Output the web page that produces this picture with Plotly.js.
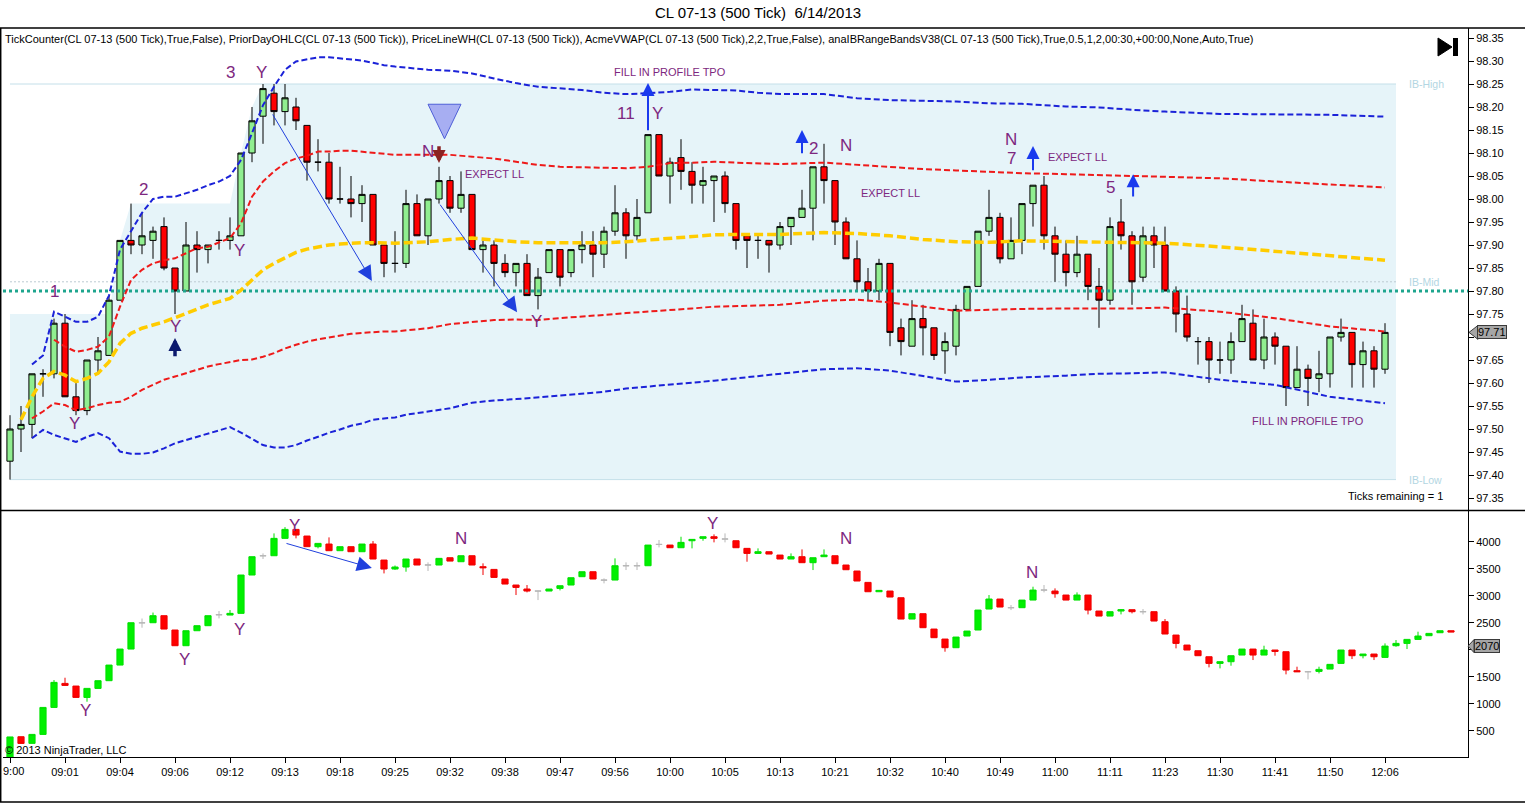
<!DOCTYPE html>
<html><head><meta charset="utf-8">
<script src="https://cdn.plot.ly/plotly-3.0.1.min.js"></script>
<style>html,body{margin:0;padding:0;background:#fff;}#chart{width:1525px;height:803px;}</style>
</head><body><div id="chart"></div>
<script>
// ---------------- DATA ----------------
const timeLabels = ['09:00','09:01','09:04','09:06','09:12','09:13','09:18','09:25','09:32','09:38','09:47','09:56','10:00','10:05','10:13','10:21','10:32','10:40','10:49','11:00','11:11','11:23','11:30','11:41','11:50','12:06'];

const priceOpen = [97.43,97.50,97.51,97.62,97.62,97.73,97.57,97.54,97.65,97.66,97.78,97.91,97.90,97.91,97.94,97.85,97.80,97.90,97.89,97.91,97.91,97.92,98.10,98.18,98.23,98.19,98.20,98.16,98.08,98.08,98.00,98.00,97.99,98.01,97.90,97.86,97.86,97.99,97.92,98.00,98.04,97.98,98.01,97.89,97.90,97.86,97.84,97.86,97.79,97.84,97.89,97.84,97.89,97.90,97.88,97.93,97.97,97.92,97.97,98.14,98.05,98.09,98.06,98.03,98.04,98.05,97.99,97.92,97.91,97.91,97.90,97.94,97.96,97.98,98.07,98.04,97.95,97.87,97.82,97.80,97.86,97.72,97.68,97.74,97.72,97.67,97.68,97.76,97.81,97.93,97.96,97.87,97.91,97.99,98.03,97.92,97.88,97.84,97.88,97.81,97.78,97.95,97.92,97.83,97.92,97.90,97.80,97.75,97.69,97.69,97.65,97.65,97.69,97.73,97.65,97.70,97.68,97.59,97.63,97.61,97.62,97.70,97.71,97.64,97.67,97.63];
const priceHigh = [97.53,97.55,97.62,97.63,97.74,97.75,97.60,97.65,97.70,97.79,97.91,97.99,97.97,97.94,97.96,97.85,97.95,97.93,97.90,97.93,97.96,98.10,98.20,98.25,98.25,98.25,98.22,98.16,98.13,98.10,98.07,98.05,98.03,98.01,97.90,97.93,98.02,98.01,98.00,98.07,98.05,98.06,98.01,97.91,97.91,97.88,97.86,97.88,97.85,97.89,97.89,97.89,97.93,97.93,97.94,98.03,97.98,98.00,98.14,98.14,98.09,98.13,98.08,98.07,98.05,98.06,97.99,97.92,97.92,97.91,97.95,97.96,98.02,98.07,98.12,98.04,97.96,97.91,97.85,97.87,97.86,97.74,97.78,97.77,97.72,97.71,97.77,97.81,97.93,98.02,97.97,97.96,97.99,98.03,98.05,97.94,97.91,97.92,97.88,97.85,97.96,98.00,97.93,97.94,97.94,97.94,97.81,97.79,97.70,97.70,97.69,97.71,97.77,97.76,97.74,97.71,97.68,97.68,97.64,97.67,97.70,97.74,97.71,97.69,97.68,97.73];
const priceLow = [97.39,97.45,97.48,97.57,97.61,97.57,97.53,97.53,97.62,97.66,97.78,97.88,97.88,97.87,97.845,97.75,97.80,97.84,97.86,97.89,97.89,97.92,98.08,98.12,98.16,98.16,98.15,98.04,98.06,97.99,97.99,97.96,97.95,97.90,97.83,97.84,97.85,97.92,97.90,97.99,97.97,97.97,97.89,97.84,97.81,97.83,97.81,97.79,97.76,97.84,97.81,97.83,97.86,97.83,97.85,97.92,97.87,97.91,97.97,98.05,97.99,98.02,97.99,97.99,97.95,97.97,97.89,97.85,97.87,97.84,97.89,97.90,97.96,97.91,97.99,97.90,97.87,97.80,97.78,97.78,97.68,97.66,97.68,97.66,97.65,97.62,97.66,97.76,97.81,97.92,97.86,97.87,97.88,97.94,97.89,97.82,97.81,97.83,97.78,97.72,97.77,97.89,97.77,97.82,97.85,97.80,97.71,97.69,97.64,97.60,97.62,97.62,97.69,97.65,97.63,97.64,97.55,97.59,97.55,97.58,97.59,97.69,97.59,97.59,97.59,97.62];
const priceClose = [97.50,97.51,97.62,97.62,97.73,97.57,97.54,97.65,97.67,97.78,97.91,97.90,97.92,97.93,97.85,97.80,97.90,97.89,97.90,97.91,97.92,98.10,98.17,98.24,98.19,98.22,98.17,98.08,98.08,98.00,98.00,97.99,98.01,97.90,97.86,97.86,97.99,97.92,98.00,98.04,97.98,98.01,97.89,97.90,97.86,97.84,97.86,97.79,97.83,97.89,97.83,97.89,97.90,97.88,97.93,97.97,97.92,97.96,98.14,98.05,98.08,98.06,98.03,98.04,98.05,97.99,97.91,97.91,97.91,97.90,97.94,97.96,97.98,98.07,98.04,97.95,97.87,97.82,97.80,97.86,97.71,97.69,97.74,97.72,97.66,97.69,97.76,97.81,97.93,97.96,97.87,97.91,97.99,98.03,97.92,97.88,97.84,97.88,97.81,97.78,97.94,97.92,97.82,97.92,97.90,97.80,97.75,97.70,97.69,97.65,97.65,97.69,97.74,97.65,97.70,97.68,97.59,97.63,97.61,97.62,97.70,97.71,97.64,97.67,97.63,97.71];

const deltaOpen = [0,394,271,437,936,1380,1331,1121,1288,1430,1719,2015,2500,2502,2632,2367,2077,2354,2447,2650,2644,2675,3384,3740,3741,4062,4228,4105,3908,3957,3834,3908,3815,3957,3661,3495,3532,3680,3570,3569,3704,3630,3741,3538,3488,3310,3199,3125,3088,3088,3137,3199,3353,3445,3290,3291,3556,3556,3556,3950,3938,3889,4018,4062,4092,4050,4018,3877,3784,3815,3753,3680,3723,3612,3723,3741,3569,3458,3248,3075,3088,2964,2570,2669,2385,2200,2040,2256,2367,2755,2940,2780,2780,2921,3106,3088,3014,2921,3014,2718,2625,2718,2743,2706,2706,2521,2274,2089,1984,1873,1750,1781,1904,2015,1904,1997,1966,1615,1596,1602,1645,1750,1997,1892,1923,1861,2077,2120,2194,2262,2317,2354];
const deltaHigh = [390,394,437,936,1442,1485,1331,1288,1430,1719,2015,2502,2580,2690,2632,2367,2354,2447,2632,2718,2736,3384,3723,3784,4154,4270,4228,4105,3969,4080,3908,3908,3957,4012,3661,3560,3680,3680,3618,3692,3704,3741,3741,3600,3488,3310,3199,3199,3095,3125,3186,3334,3445,3445,3322,3692,3618,3618,3938,4031,3938,4092,4043,4092,4136,4154,4018,3877,3877,3815,3753,3784,3858,3704,3858,3741,3569,3458,3248,3100,3088,2964,2669,2669,2385,2200,2237,2348,2736,3014,2940,2829,2921,3168,3199,3137,3014,3063,3014,2718,2706,2755,2743,2755,2706,2570,2274,2089,1984,1873,1781,1892,2015,2015,2077,1997,1966,1689,1610,1689,1732,1997,1997,1923,1923,2120,2182,2194,2336,2305,2354,2354];
const deltaLow = [0,270,271,437,936,1340,1121,1041,1288,1430,1719,2015,2410,2502,2385,2077,2077,2354,2447,2582,2644,2675,3384,3680,3741,4062,4062,3908,3877,3834,3834,3815,3815,3680,3414,3480,3445,3569,3458,3569,3642,3630,3569,3384,3340,3217,3014,3063,2921,3088,3100,3199,3353,3310,3230,3291,3476,3476,3556,3895,3889,3889,3877,4018,3988,3988,3889,3630,3784,3772,3680,3680,3612,3476,3723,3593,3482,3273,3075,3075,2977,2570,2570,2410,2225,1966,2040,2256,2367,2755,2792,2736,2780,2921,3063,2964,2921,2921,2656,2625,2625,2656,2675,2656,2533,2293,2028,1997,1892,1676,1658,1707,1904,1812,1904,1892,1547,1596,1454,1565,1645,1750,1830,1843,1812,1861,2058,2015,2194,2262,2317,2330];
const deltaClose = [390,270,437,936,1399,1343,1121,1288,1430,1719,2015,2502,2500,2632,2385,2077,2354,2447,2632,2650,2675,3384,3723,3740,4062,4228,4123,3908,3969,3834,3908,3815,3957,3680,3495,3532,3680,3569,3570,3692,3642,3741,3569,3519,3340,3217,3155,3088,3088,3125,3186,3334,3445,3310,3290,3556,3556,3556,3938,3950,3889,3988,4043,4092,4062,4050,3889,3784,3815,3772,3680,3723,3612,3704,3753,3593,3482,3273,3075,3100,2977,2570,2669,2410,2225,2040,2237,2348,2736,2940,2792,2780,2921,3106,3106,3038,2921,3014,2736,2625,2706,2743,2706,2706,2533,2293,2120,1997,1892,1750,1781,1892,2015,1904,1997,1972,1627,1596,1596,1639,1732,1997,1892,1923,1873,2070,2120,2194,2256,2305,2354,2330];

// indicator sample bars
const bandBars = [1,2,3,4,5,6,7,8,9,10,11,12,13,14,15,16,17,18,19,20,21,22,23,24,25,26,27,28,29,30,31,32,33,34,35,36,38,40,42,44,46,48,50,52,54,56,58,60,62,64,66,68,70,74,77,80,83,86,89,92,96,99,102,105,110,115,120,125];
const outerUpper = [null,97.64,97.66,97.755,97.744,97.733,97.733,97.744,97.79,97.89,97.93,97.97,98.00,98.005,98.005,98.012,98.02,98.03,98.038,98.05,98.085,98.143,98.204,98.244,98.281,98.299,98.304,98.308,98.308,98.306,98.304,98.301,98.296,98.291,98.288,98.286,98.281,98.279,98.273,98.262,98.252,98.244,98.241,98.237,98.231,98.228,98.230,98.233,98.238,98.237,98.236,98.231,98.228,98.228,98.219,98.215,98.214,98.212,98.208,98.207,98.201,98.199,98.194,98.190,98.185,98.184,98.183,98.179];
const innerUpper = [null,null,null,97.694,97.679,97.668,97.672,97.679,97.701,97.766,97.824,97.846,97.860,97.867,97.871,97.882,97.893,97.896,97.905,97.915,97.947,98.005,98.038,98.060,98.078,98.088,98.094,98.103,98.103,98.105,98.105,98.103,98.101,98.098,98.096,98.096,98.096,98.096,98.092,98.088,98.081,98.074,98.070,98.069,98.069,98.067,98.070,98.078,98.079,98.081,98.079,98.078,98.076,98.079,98.074,98.069,98.065,98.062,98.059,98.056,98.054,98.052,98.050,98.047,98.045,98.038,98.031,98.025];
const vwap = [97.520,97.570,97.610,97.625,97.617,97.603,97.610,97.621,97.646,97.686,97.708,97.719,97.726,97.733,97.742,97.751,97.762,97.770,97.777,97.784,97.802,97.824,97.846,97.860,97.873,97.884,97.891,97.896,97.900,97.902,97.904,97.905,97.905,97.904,97.904,97.905,97.907,97.912,97.915,97.911,97.907,97.905,97.905,97.904,97.905,97.907,97.911,97.915,97.918,97.922,97.923,97.923,97.923,97.927,97.925,97.920,97.912,97.907,97.906,97.909,97.907,97.907,97.905,97.904,97.896,97.886,97.876,97.867];
const innerLower = [null,97.523,97.538,97.556,97.552,97.541,97.545,97.552,97.557,97.559,97.570,97.585,97.596,97.607,97.614,97.621,97.628,97.636,97.641,97.646,97.650,97.651,97.657,97.665,97.675,97.683,97.690,97.695,97.699,97.702,97.707,97.709,97.711,97.712,97.712,97.714,97.719,97.728,97.733,97.737,97.738,97.737,97.741,97.744,97.748,97.752,97.755,97.759,97.762,97.766,97.767,97.769,97.770,97.779,97.781,97.775,97.766,97.757,97.759,97.761,97.762,97.762,97.762,97.764,97.755,97.741,97.723,97.712];
const outerLower = [null,97.480,97.498,97.487,97.480,97.472,97.483,97.491,97.480,97.451,97.446,97.446,97.449,97.458,97.469,97.476,97.483,97.491,97.498,97.504,97.492,97.478,97.465,97.460,97.460,97.465,97.475,97.483,97.492,97.499,97.507,97.512,97.520,97.523,97.525,97.531,97.538,97.545,97.557,97.562,97.565,97.569,97.574,97.578,97.581,97.588,97.592,97.596,97.601,97.605,97.610,97.615,97.620,97.630,97.632,97.627,97.615,97.603,97.607,97.612,97.616,97.620,97.621,97.623,97.607,97.596,97.570,97.556];

// initial-balance band top as it developed
const ibTopBars = [0,9,10,11,20,21,22,23,126];
const ibTopLevels = [97.75,97.75,97.91,97.99,97.99,98.10,98.20,98.25,98.25];
const priorDayLevel = 97.80;

// ---------------- LAYOUT HELPERS ----------------
const W = 1525, H = 803;
const FONT = 'Liberation Sans, Arial, sans-serif';
const PURPLE = '#7d2780';
const px = v => v / W;
const py = v => 1 - v / H;
const plotL = 3, plotR = 1468, bar0 = 10, barStep = 11;
const xRange = [(plotL - bar0) / barStep, (plotR - bar0) / barStep];

const idx = priceOpen.map((_, i) => i);
const dIdx = deltaOpen.map((_, i) => i);
const ibHigh = Math.max(...ibTopLevels);
const ibLow = Math.min(...priceLow);
const ibMid = (ibHigh + ibLow) / 2;
const ibStart = ibTopBars[0], ibEnd = ibTopBars[ibTopBars.length - 1];

function pick(arr, ids) { return ids.map(i => arr[i]); }
const upIds = dIdx.filter(i => deltaClose[i] > deltaOpen[i]);
const dnIds = dIdx.filter(i => deltaClose[i] < deltaOpen[i]);
const flIds = dIdx.filter(i => deltaClose[i] === deltaOpen[i]);

function deltaTrace(ids, color, lineColor) {
  return {
    type: 'candlestick', xaxis: 'x2', yaxis: 'y2',
    x: ids, open: pick(deltaOpen, ids), high: pick(deltaHigh, ids),
    low: pick(deltaLow, ids), close: pick(deltaClose, ids),
    increasing: {line: {color: lineColor, width: 1}, fillcolor: color},
    decreasing: {line: {color: lineColor, width: 1}, fillcolor: color},
    hoverinfo: 'skip'
  };
}
function lineTrace(y, color, width, dash) {
  return {type: 'scatter', mode: 'lines', x: bandBars, y: y, xaxis: 'x', yaxis: 'y',
    line: {color: color, width: width, dash: dash}, hoverinfo: 'skip', connectgaps: false};
}

const traces = [
  {type: 'candlestick', xaxis: 'x', yaxis: 'y', x: idx,
   open: priceOpen, high: priceHigh, low: priceLow, close: priceClose,
   increasing: {line: {color: '#000000', width: 1}, fillcolor: '#90ee90'},
   decreasing: {line: {color: '#000000', width: 1}, fillcolor: '#ff0000'},
   hoverinfo: 'skip'},
  {type: 'scatter', mode: 'lines', xaxis: 'x', yaxis: 'y', x: xRange, y: [priorDayLevel, priorDayLevel],
   line: {color: '#1ea58e', width: 3, dash: '3px,3px'}, hoverinfo: 'skip'},
  lineTrace(outerUpper, '#1b22d8', 2, '6px,3px'),
  lineTrace(innerUpper, '#ee1a1a', 2, '6px,3px'),
  lineTrace(vwap, '#ffcc00', 3.5, '9px,4px'),
  lineTrace(innerLower, '#ee1a1a', 2, '6px,3px'),
  lineTrace(outerLower, '#1b22d8', 2, '6px,3px'),
  deltaTrace(upIds, '#00f000', '#00e000'),
  deltaTrace(dnIds, '#ff0000', '#f00000'),
  deltaTrace(flIds, '#b8b8b8', '#b8b8b8')
];

// ---------------- ANNOTATIONS ----------------
const ann = [];
function bigLabel(t, x, y, xr, yr) {
  ann.push({text: t, x: x, y: y, xref: xr || 'x', yref: yr || 'y', showarrow: false,
    font: {family: FONT, size: 17, color: PURPLE}, xanchor: 'center', yanchor: 'middle'});
}
function smallLabel(t, x, y) {
  ann.push({text: t, x: x, y: y, xref: 'x', yref: 'y', showarrow: false,
    font: {family: FONT, size: 11, color: PURPLE}, xanchor: 'center', yanchor: 'middle'});
}
function arrow(x, y, ax, ay, color, width, size, xr, yr) {
  ann.push({text: '', x: x, y: y, ax: ax, ay: ay, xref: xr || 'x', yref: yr || 'y',
    axref: xr || 'x', ayref: yr || 'y', showarrow: true, arrowhead: 2, arrowsize: size,
    arrowwidth: width, arrowcolor: color, standoff: 0, startstandoff: 0});
}
[['1',4.0,97.798],['Y',5.9,97.511],['2',12.1,98.020],['Y',15.0,97.722],['Y',20.9,97.887],
 ['3',20.0,98.276],['Y',22.9,98.276],['N',38.0,98.104],['Y',47.9,97.733],['11',56.0,98.185],
 ['Y',58.9,98.185],['2',73.0,98.109],['N',76.0,98.117],['N',91.0,98.130],['7',91.0,98.089],
 ['5',100.0,98.024]].forEach(a => bigLabel(a[0], a[1], a[2]));
[['EXPECT LL',44.0,98.054],['FILL IN PROFILE TPO',60.0,98.276],['EXPECT LL',80.0,98.013],
 ['EXPECT LL',97.0,98.091],['FILL IN PROFILE TPO',118.0,97.518]].forEach(a => smallLabel(a[0], a[1], a[2]));
[['Y',6.9,888],['Y',15.9,1831],['Y',20.9,2386],['Y',25.9,4309],['N',41.0,4068],
 ['Y',63.9,4328],['N',76.0,4068],['N',92.9,3440]].forEach(a => bigLabel(a[0], a[1], a[2], 'x2', 'y2'));

arrow(32.9, 97.822, 23.8, 98.187, '#2040dd', 1, 3);
arrow(46.1, 97.754, 39.0, 97.991, '#2040dd', 1, 3);
arrow(58.0, 98.252, 58.0, 98.146, '#1a3aee', 2, 1.3);
arrow(72.0, 98.150, 72.0, 98.096, '#1a3aee', 2, 1.3);
arrow(93.0, 98.115, 93.0, 98.059, '#1a3aee', 2, 1.3);
arrow(102.1, 98.054, 102.1, 98.002, '#1a3aee', 2, 1.3);
arrow(15.0, 97.698, 15.0, 97.655, '#0c1a6e', 3.5, 0.75);
arrow(39.0, 98.078, 39.0, 98.118, '#8a2222', 3.5, 0.75);
arrow(32.9, 3514, 25.0, 3976, '#2040dd', 1, 3, 'x2', 'y2');

ann.push({text: 'TickCounter(CL 07-13 (500 Tick),True,False), PriorDayOHLC(CL 07-13 (500 Tick)), PriceLineWH(CL 07-13 (500 Tick)), AcmeVWAP(CL 07-13 (500 Tick),2,2,True,False), anaIBRangeBandsV38(CL 07-13 (500 Tick),True,0.5,1,2,00:30,+00:00,None,Auto,True)',
  x: px(3), y: py(39), xref: 'paper', yref: 'paper', showarrow: false, xanchor: 'left', yanchor: 'middle',
  font: {family: FONT, size: 11, color: '#000'}});
ann.push({text: 'Ticks remaining = 1', x: px(1445), y: py(496), xref: 'paper', yref: 'paper', showarrow: false,
  xanchor: 'right', yanchor: 'middle', font: {family: FONT, size: 11, color: '#000'}});
ann.push({text: '© 2013 NinjaTrader, LLC', x: px(3), y: py(750), xref: 'paper', yref: 'paper', showarrow: false,
  xanchor: 'left', yanchor: 'middle', font: {family: FONT, size: 11, color: '#000'}});
// first time label sits against the left border (as in the original, where it is clipped to "9:00")
ann.push({text: timeLabels[0].replace(/^0/, ''), x: px(1), y: py(771), xref: 'paper', yref: 'paper', showarrow: false,
  xanchor: 'left', yanchor: 'middle', font: {family: FONT, size: 11, color: '#000'}});
[['IB-High', ibHigh], ['IB-Mid', ibMid], ['IB-Low', ibLow]].forEach(a => ann.push({
  text: a[0], x: px(1407), y: a[1], xref: 'paper', yref: 'y', showarrow: false, xanchor: 'left', yanchor: 'middle',
  font: {family: FONT, size: 10.5, color: '#b3d6e2'}}));

const lastPrice = priceClose[priceClose.length - 1];
const lastDelta = deltaClose[idx.length - 1];
ann.push({text: lastPrice.toFixed(2), x: px(1492), y: lastPrice, xref: 'paper', yref: 'y', showarrow: false,
  xanchor: 'center', yanchor: 'middle', bgcolor: '#a6a6a6', bordercolor: '#3a3a3a', borderwidth: 1, borderpad: 0,
  font: {family: FONT, size: 11, color: '#000'}});
ann.push({text: String(lastDelta), x: px(1487), y: lastDelta, xref: 'paper', yref: 'y2', showarrow: false,
  xanchor: 'center', yanchor: 'middle', bgcolor: '#a6a6a6', bordercolor: '#3a3a3a', borderwidth: 1, borderpad: 0,
  font: {family: FONT, size: 11, color: '#000'}});

// ---------------- SHAPES ----------------
const bandPath = 'M' + ibTopBars.map((b, k) => b + ',' + ibTopLevels[k]).join(' L') +
  ' L' + ibEnd + ',' + ibLow + ' L' + ibStart + ',' + ibLow + ' Z';
const hp = 0.0152, hd = 120;
const shapes = [
  {type: 'path', xref: 'x', yref: 'y', layer: 'below', path: bandPath, fillcolor: '#e6f4f9', line: {width: 0}},
  {type: 'line', xref: 'x', yref: 'y', layer: 'below', x0: ibStart, x1: ibEnd, y0: ibHigh, y1: ibHigh, line: {color: '#c4dfe9', width: 1}},
  {type: 'line', xref: 'x', yref: 'y', layer: 'below', x0: ibStart, x1: ibEnd, y0: ibMid, y1: ibMid, line: {color: '#bccbd2', width: 1, dash: '2px,2px'}},
  {type: 'line', xref: 'x', yref: 'y', layer: 'below', x0: ibStart, x1: ibEnd, y0: ibLow, y1: ibLow, line: {color: '#c4dfe9', width: 1}},
  {type: 'line', xref: 'paper', yref: 'paper', x0: 0, x1: 1, y0: py(28), y1: py(28), line: {color: '#000', width: 1.5}},
  {type: 'line', xref: 'paper', yref: 'paper', x0: 0, x1: 1, y0: py(510.5), y1: py(510.5), line: {color: '#000', width: 1.5}},
  {type: 'line', xref: 'paper', yref: 'paper', x0: 0, x1: 1, y0: py(802), y1: py(802), line: {color: '#000', width: 1.5}},
  {type: 'line', xref: 'paper', yref: 'paper', x0: px(0.7), x1: px(0.7), y0: py(28), y1: py(802), line: {color: '#000', width: 1.5}},
  {type: 'path', xref: 'paper', yref: 'paper', path: `M${px(1438)},${py(38)} L${px(1438)},${py(56)} L${px(1452)},${py(47)} Z`,
   fillcolor: '#000', line: {color: '#000', width: 1}},
  {type: 'rect', xref: 'paper', yref: 'paper', x0: px(1453), x1: px(1458), y0: py(56), y1: py(38),
   fillcolor: '#000', line: {color: '#000', width: 0}},
  {type: 'path', xref: 'paper', yref: 'y', path: `M${px(1469)},${lastPrice} L${px(1478)},${lastPrice + hp} L${px(1478)},${lastPrice - hp} Z`,
   fillcolor: '#a6a6a6', line: {color: '#3a3a3a', width: 1}},
  {type: 'path', xref: 'paper', yref: 'y2', path: `M${px(1468)},${lastDelta} L${px(1474)},${lastDelta + hd} L${px(1474)},${lastDelta - hd} Z`,
   fillcolor: '#a6a6a6', line: {color: '#3a3a3a', width: 1}},
  {type: 'path', xref: 'x', yref: 'y', path: 'M38.0,98.206 L41.0,98.206 L39.5,98.131 Z',
   fillcolor: '#a7aef2', line: {color: '#4f5fd8', width: 1}}
];

// tick values; labels hidden where the last-value boxes cover them
const priceTicks = [];
for (let v = 97.35; v <= 98.351; v += 0.05) priceTicks.push(Math.round(v * 100) / 100);
const priceTickText = priceTicks.map(v => Math.abs(v - lastPrice) < 0.025 ? '' : v.toFixed(2));
const deltaTicks = [500, 1000, 1500, 2000, 2500, 3000, 3500, 4000];
const deltaTickText = deltaTicks.map(v => Math.abs(v - lastDelta) < 200 ? '' : String(v));
const timeTickText = timeLabels.map((t, k) => k === 0 ? '' : t);

const layout = {
  width: W, height: H,
  margin: {l: 0, r: 0, t: 0, b: 0},
  paper_bgcolor: '#ffffff', plot_bgcolor: 'rgba(0,0,0,0)',
  showlegend: false,
  font: {family: FONT, size: 11, color: '#000'},
  boxgap: 0.2, boxgroupgap: 0.3,
  title: {text: 'CL 07-13 (500 Tick)  6/14/2013', x: px(758), y: py(13), xref: 'paper', yref: 'paper',
    xanchor: 'center', yanchor: 'middle', font: {family: FONT, size: 15, color: '#000'}},
  xaxis: {domain: [px(plotL), px(plotR)], range: xRange, anchor: 'y', showticklabels: false, ticks: '',
    showgrid: false, zeroline: false, showline: false, rangeslider: {visible: false}, fixedrange: true},
  yaxis: {domain: [py(510), py(28)], range: [97.35 - 12 / 460, 98.35 + 10 / 460], anchor: 'x', side: 'right',
    tickvals: priceTicks, ticktext: priceTickText, ticks: 'outside', ticklen: 5, tickcolor: '#000',
    showline: true, linecolor: '#000', linewidth: 1, showgrid: false, zeroline: false,
    tickfont: {family: FONT, size: 11, color: '#000'}, fixedrange: true},
  xaxis2: {domain: [px(plotL), px(plotR)], range: xRange, anchor: 'y2',
    tickvals: timeLabels.map((_, k) => k * 5), ticktext: timeTickText, ticks: 'outside', ticklen: 5,
    tickcolor: '#000', showline: true, linecolor: '#000', linewidth: 1, showgrid: false, zeroline: false,
    tickfont: {family: FONT, size: 11, color: '#000'}, rangeslider: {visible: false}, fixedrange: true},
  yaxis2: {domain: [py(757), py(511)], range: [19, 4568], anchor: 'x2', side: 'right',
    tickvals: deltaTicks, ticktext: deltaTickText, ticks: 'outside', ticklen: 5, tickcolor: '#000',
    showline: true, linecolor: '#000', linewidth: 1, showgrid: false, zeroline: false,
    tickfont: {family: FONT, size: 11, color: '#000'}, fixedrange: true},
  annotations: ann,
  shapes: shapes
};

Plotly.newPlot('chart', traces, layout, {staticPlot: true, displayModeBar: false});
</script>
</body></html>
